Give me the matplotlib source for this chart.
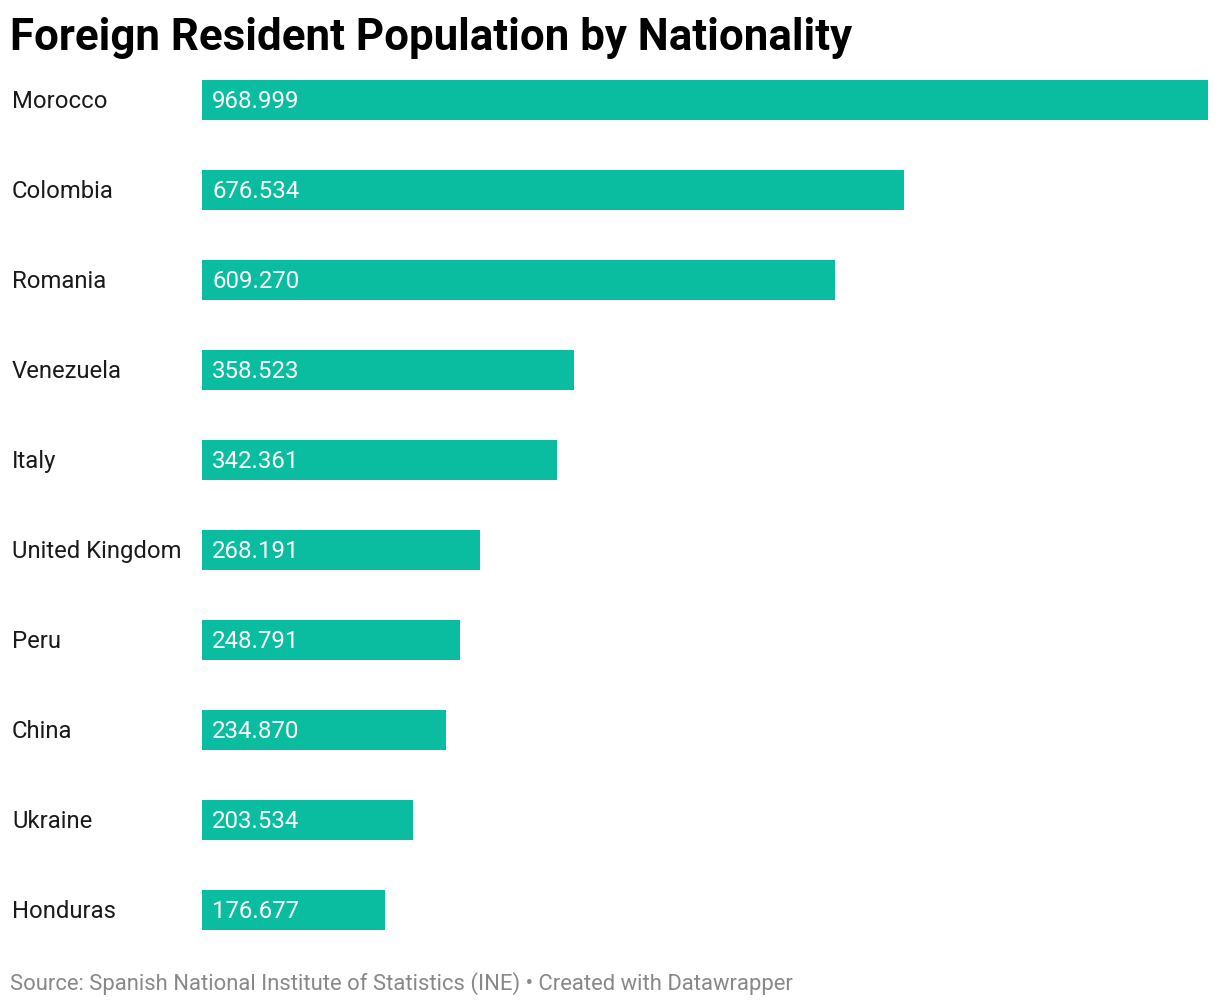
import matplotlib
matplotlib.use("Agg")
import matplotlib.pyplot as plt

countries = ["Morocco", "Colombia", "Romania", "Venezuela", "Italy",
             "United Kingdom", "Peru", "China", "Ukraine", "Honduras"]
population = [968999, 676534, 609270, 358523, 342361,
              268191, 248791, 234870, 203534, 176677]
value_labels = ["968.999", "676.534", "609.270", "358.523", "342.361",
                "268.191", "248.791", "234.870", "203.534", "176.677"]

plt.rcParams['font.family'] = ['Roboto', 'DejaVu Sans']

W, H = 1220, 1006
fig = plt.figure(figsize=(W / 100, H / 100), dpi=100)
fig.patch.set_facecolor("white")

# axes in pixel coords: bars start at x=202, longest ends at 1208
ax = fig.add_axes([202 / W, 1 - 955 / H, (1208 - 202) / W, (955 - 55) / H])
ypos = list(range(len(countries)))
ax.barh(ypos, population, height=40 / 90, color="#0abca0")
ax.set_xlim(0, max(population))
ax.set_ylim(len(countries) - 0.5, -0.5)
ax.axis("off")

for i, (name, lab) in enumerate(zip(countries, value_labels)):
    ax.annotate(lab, xy=(0, i), xycoords="data",
                xytext=(10, -2), textcoords="offset pixels",
                fontsize=17.3, va="center", ha="left", color="white")
    ax.annotate(name, xy=(0, i), xycoords="data",
                xytext=(12 - 202, -2), textcoords="offset pixels",
                fontsize=17.2, va="center", ha="left", color="#1a1a1a")

fig.text(10 / W, 1 - 38 / H, "Foreign Resident Population by Nationality",
         fontsize=31.6, fontweight="bold", va="center", ha="left", color="#000000")
fig.text(10 / W, 1 - 984 / H,
         "Source: Spanish National Institute of Statistics (INE) \u2022 Created with Datawrapper",
         fontsize=15.8, va="center", ha="left", color="#888888")

fig.savefig("out.png", dpi=100, facecolor="white")
